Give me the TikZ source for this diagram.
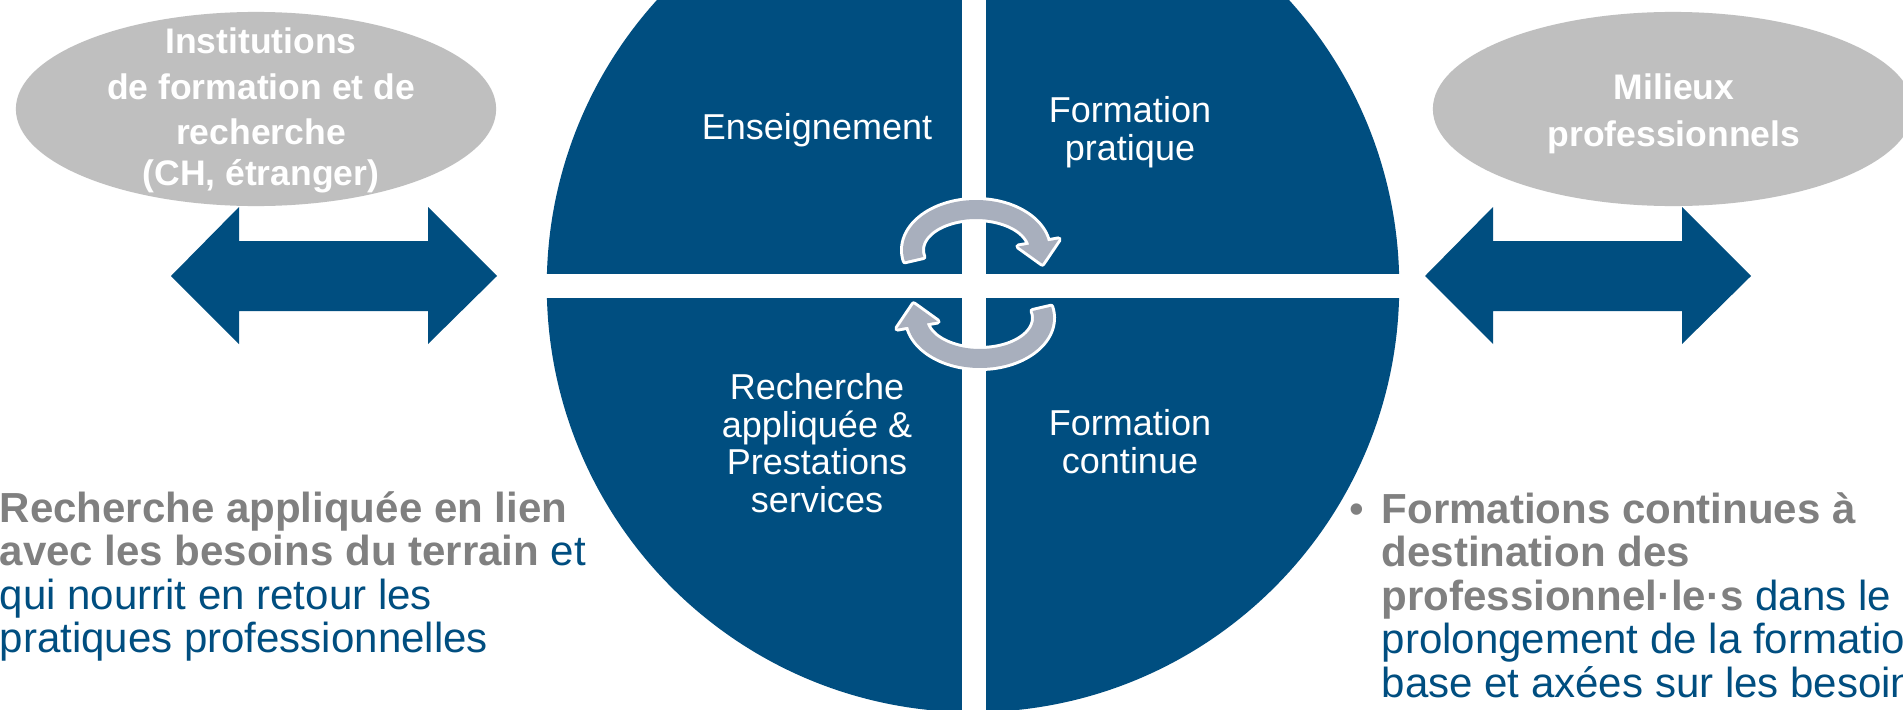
\documentclass[tikz,border=0pt]{standalone}
\usepackage{fontspec}
\setmainfont{Liberation Sans}
\usetikzlibrary{shapes.geometric}
\definecolor{hesblue}{RGB}{0,78,128}
\definecolor{ovalgray}{RGB}{191,191,191}
\definecolor{txtgray}{RGB}{128,128,128}
\definecolor{cyclegray}{RGB}{168,175,189}
\begin{document}
\begin{tikzpicture}[x=0.01cm, y=-0.01cm,
  quad/.style={text=white, font=\fontsize{10.24}{10.8}\selectfont, inner sep=0pt, anchor=base},
  ovaltxt/.style={text=white, font=\fontsize{10.1}{12}\selectfont\bfseries, inner sep=0pt, anchor=base},
  bodytxt/.style={text=hesblue, font=\fontsize{11.95}{12.4}\selectfont, inner sep=0pt, anchor=base west},
  oval/.style={ellipse, fill=ovalgray, minimum width=4.8cm, minimum height=1.94cm, inner sep=0pt},
  blockarrow/.style={fill=hesblue},
  cyclearrow/.style={fill=cyclegray, preaction={draw=white, line width=0.6mm, line join=round}}]
\useasboundingbox (0,0) rectangle (1903,709);
\clip (0,0) rectangle (1903,709);
\fill[white] (0,0) rectangle (1903,709);

% central wheel
\node[circle, fill=hesblue, minimum size=8.52cm, inner sep=0pt] (wheel) at (973,286) {};
\fill[white] (962,-5) rectangle (986,715);
\fill[white] (530,274) rectangle (1420,298);

% quadrant labels
\node[quad] (q1) at (817,139) {Enseignement};
\node[quad] (q2a) at (1130,122) {Formation};
\node[quad] (q2b) at (1130,160) {pratique};
\node[quad] (q3a) at (817,399) {Recherche};
\node[quad] (q3b) at (817,437) {appliquée \&};
\node[quad] (q3c) at (817,474) {Prestations};
\node[quad] (q3d) at (817,512) {services};
\node[quad] (q4a) at (1130,435) {Formation};
\node[quad] (q4b) at (1130,473) {continue};

% cycle arrows
\path[cyclearrow] plot[domain=167:350, samples=60, variable=\t] ({976+73*cos(\t)},{250+50*sin(\t)})
  -- (1058.7,239.4) -- (1042.3,263.7) -- (1018.4,246.5)
  -- plot[domain=350:167, samples=60, variable=\t] ({976+54*cos(\t)},{250+31*sin(\t)}) -- cycle;
\begin{scope}[rotate around={180:(978,284)}]
\path[cyclearrow] plot[domain=167:350, samples=60, variable=\t] ({976+73*cos(\t)},{250+50*sin(\t)})
  -- (1058.7,239.4) -- (1042.3,263.7) -- (1018.4,246.5)
  -- plot[domain=350:167, samples=60, variable=\t] ({976+54*cos(\t)},{250+31*sin(\t)}) -- cycle;
\end{scope}

% ovals
\node[oval] (inst) at (256,109) {};
\node[ovaltxt] (inst1) at (261,53) {Institutions};
\node[ovaltxt] (inst2) at (261,100) {de formation et de};
\node[ovaltxt] (inst3) at (261,144) {recherche};
\node[ovaltxt] (inst4) at (261,185) {(CH, étranger)};
\node[oval] (milieux) at (1673,109) {};
\node[ovaltxt] (mil1) at (1674,100) {Milieux};
\node[ovaltxt] (mil2) at (1674,146) {professionnels};

% double arrows
\path[blockarrow] (171,276) -- (239,207) -- (239,241) -- (428,241) -- (428,207) -- (497,276)
  -- (428,344) -- (428,311) -- (239,311) -- (239,344) -- cycle;
\path[blockarrow] (1425,276) -- (1493,207) -- (1493,241) -- (1682,241) -- (1682,207) -- (1751,276)
  -- (1682,344) -- (1682,311) -- (1493,311) -- (1493,344) -- cycle;

% left text
\node[bodytxt] (lt1) at (-1,522) {\color{txtgray}\bfseries Recherche appliquée en lien};
\node[bodytxt] (lt2) at (-1,565.5) {{\color{txtgray}\bfseries avec les besoins du terrain} et};
\node[bodytxt] (lt3) at (-1,609) {qui nourrit en retour les};
\node[bodytxt] (lt4) at (-1,652.5) {pratiques professionnelles};

% right text
\node[bodytxt, text=txtgray] (bul) at (1349,523) {•};
\node[bodytxt] (rt1) at (1381,523) {\color{txtgray}\bfseries Formations continues à};
\node[bodytxt] (rt2) at (1381,566.5) {\color{txtgray}\bfseries destination des};
\node[bodytxt] (rt3) at (1381,610) {{\color{txtgray}\bfseries professionnel·le·s} dans le};
\node[bodytxt] (rt4) at (1381,653.5) {prolongement de la formation};
\node[bodytxt] (rt5) at (1381,697) {base et axées sur les besoins};
\end{tikzpicture}
\end{document}
